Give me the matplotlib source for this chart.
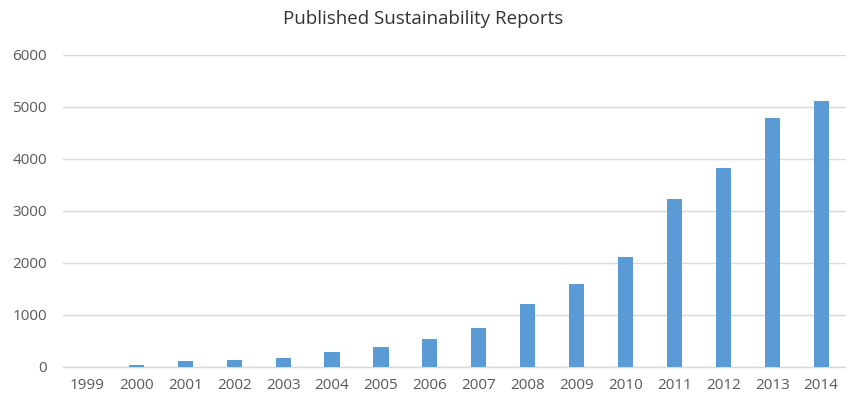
import matplotlib
matplotlib.use("Agg")
import matplotlib.pyplot as plt

years = ["1999", "2000", "2001", "2002", "2003", "2004", "2005", "2006",
         "2007", "2008", "2009", "2010", "2011", "2012", "2013", "2014"]
reports = [0, 40, 110, 130, 170, 280, 385, 530,
           750, 1210, 1600, 2115, 3230, 3830, 4790, 5110]
yticks = [0, 1000, 2000, 3000, 4000, 5000, 6000]
title = "Published Sustainability Reports"

plt.rcParams['font.family'] = ['Open Sans', 'DejaVu Sans']

fig = plt.figure(figsize=(8.46, 4.0), dpi=100)
ax = fig.add_axes([0.0745, 0.0825, 0.925, 0.78])

x = list(range(len(years)))
ax.bar(x, reports, width=0.31, color="#5b9bd5", zorder=3)

ax.set_xlim(-0.5, len(years) - 0.5)
ax.set_ylim(0, 6000)
ax.set_yticks(yticks)
ax.set_yticklabels([str(v) for v in yticks])
ax.set_xticks(x)
ax.set_xticklabels(years)

ax.grid(axis="y", color="#d9d9d9", linewidth=1, zorder=0)
for s in ["top", "right", "left"]:
    ax.spines[s].set_visible(False)
ax.spines["bottom"].set_color("#d9d9d9")
ax.spines["bottom"].set_linewidth(1)
ax.tick_params(axis="both", length=0, labelsize=11, labelcolor="#595959")
ax.tick_params(axis="y", pad=11.5)
ax.tick_params(axis="x", pad=8)

fig.text(0.5, 0.953, title, ha="center", va="center", fontsize=13.5, color="#333333")

fig.savefig("out.png", dpi=100)
